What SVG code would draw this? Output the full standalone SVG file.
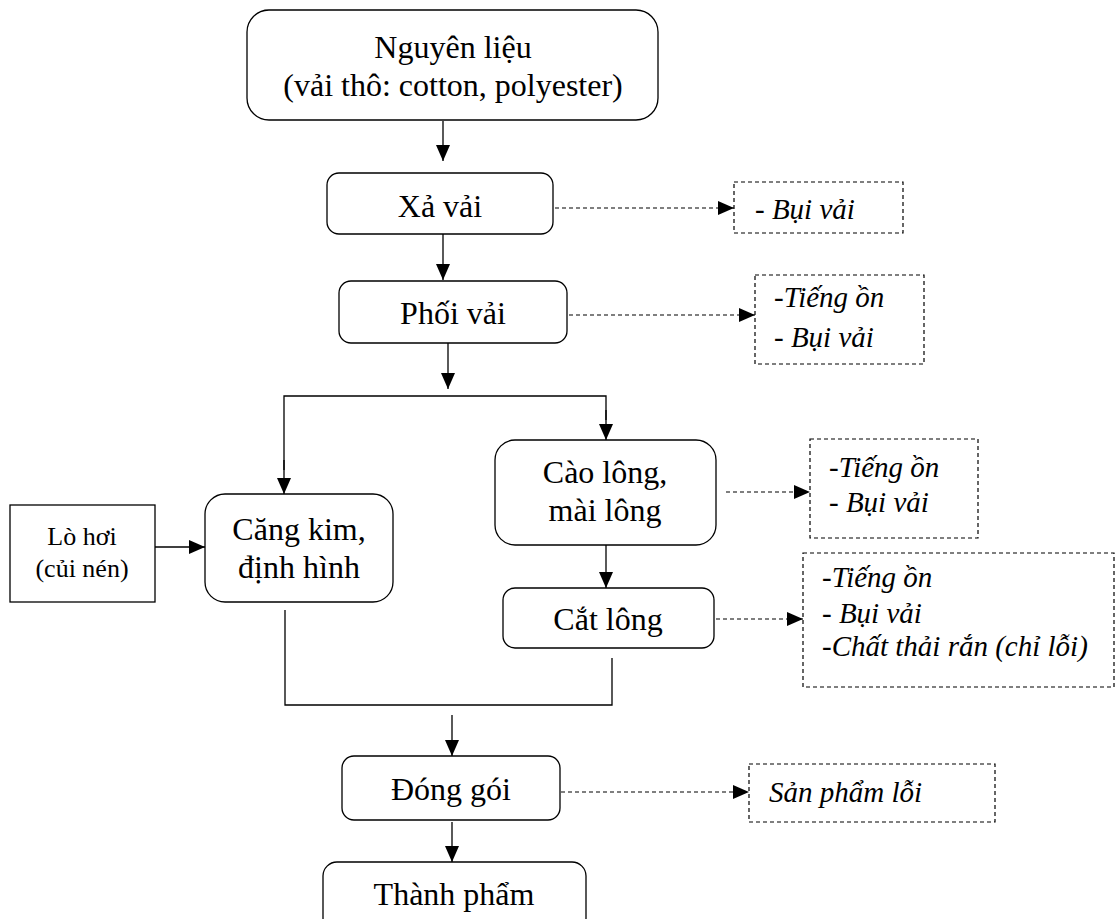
<svg xmlns="http://www.w3.org/2000/svg" width="1116" height="919" viewBox="0 0 1116 919">
<defs>
<marker id="ah" markerWidth="16" markerHeight="14" refX="16" refY="7" orient="auto" markerUnits="userSpaceOnUse" viewBox="0 0 16 14"><path d="M0,0 L16,7 L0,14 z" fill="#000"/></marker>
<style>
.box{fill:#fff;stroke:#000;stroke-width:1.3}
.dbox{fill:#fff;stroke:#000;stroke-width:1.2;stroke-dasharray:4,3}
.t{font-family:"Liberation Serif","Times New Roman",serif;font-size:32px;fill:#000;text-anchor:middle}
.ts{font-family:"Liberation Serif","Times New Roman",serif;font-size:26px;fill:#000;text-anchor:middle}
.ti{font-family:"Liberation Serif","Times New Roman",serif;font-size:29px;font-style:italic;fill:#000}
.ln{fill:none;stroke:#000;stroke-width:1.3}
.dl{fill:none;stroke:#000;stroke-width:1.2;stroke-dasharray:4,3}
</style>
</defs>
<g id="connectors">
<line class="ln" x1="443" y1="121" x2="443" y2="161" marker-end="url(#ah)"/>
<line class="dl" x1="555" y1="208" x2="734" y2="208" marker-end="url(#ah)"/>
<line class="ln" x1="443" y1="234" x2="443" y2="280" marker-end="url(#ah)"/>
<line class="dl" x1="569" y1="315" x2="755" y2="315" marker-end="url(#ah)"/>
<line class="ln" x1="448" y1="343" x2="448" y2="389" marker-end="url(#ah)"/>
<polyline class="ln" points="284,470 284,396 606,396 606,420"/>
<line class="ln" x1="284" y1="460" x2="284" y2="494" marker-end="url(#ah)"/>
<line class="ln" x1="606" y1="410" x2="606" y2="440" marker-end="url(#ah)"/>
<line class="ln" x1="155" y1="547" x2="205" y2="547" marker-end="url(#ah)"/>
<line class="dl" x1="726" y1="492" x2="810" y2="492" marker-end="url(#ah)"/>
<line class="ln" x1="606" y1="545" x2="606" y2="588" marker-end="url(#ah)"/>
<line class="dl" x1="716" y1="619" x2="803" y2="619" marker-end="url(#ah)"/>
<polyline class="ln" points="285,610 285,705 612,705 612,658"/>
<line class="ln" x1="452" y1="715" x2="452" y2="756" marker-end="url(#ah)"/>
<line class="dl" x1="561" y1="792" x2="749" y2="792" marker-end="url(#ah)"/>
<line class="ln" x1="452" y1="822" x2="452" y2="862" marker-end="url(#ah)"/>
</g>
<g id="n-nguyenlieu">
<rect class="box" x="247" y="10" width="411" height="110" rx="22"/>
<text class="t" x="453" y="58">Nguyên liệu</text>
<text class="t" x="453" y="96">(vải thô: cotton, polyester)</text>
</g>
<g id="n-xavai">
<rect class="box" x="327" y="173" width="226" height="61" rx="12"/>
<text class="t" x="440" y="217">Xả vải</text>
</g>
<g id="o-xavai">
<rect class="dbox" x="734" y="182" width="169" height="51"/>
<text class="ti" x="755" y="219">- Bụi vải</text>
</g>
<g id="n-phoivai">
<rect class="box" x="339" y="281" width="228" height="62" rx="12"/>
<text class="t" x="453" y="324">Phối vải</text>
</g>
<g id="o-phoivai">
<rect class="dbox" x="755" y="275" width="169" height="89"/>
<text class="ti" x="774" y="307">-Tiếng ồn</text>
<text class="ti" x="774" y="347">- Bụi vải</text>
</g>
<g id="n-longhoi">
<rect class="box" x="10" y="505" width="145" height="97"/>
<text class="ts" x="82" y="545">Lò hơi</text>
<text class="ts" x="82" y="577">(củi nén)</text>
</g>
<g id="n-cangkim">
<rect class="box" x="205" y="494" width="188" height="108" rx="20"/>
<text class="t" x="299" y="540">Căng kim,</text>
<text class="t" x="299" y="578">định hình</text>
</g>
<g id="n-caolong">
<rect class="box" x="495" y="440" width="221" height="105" rx="20"/>
<text class="t" x="605" y="483">Cào lông,</text>
<text class="t" x="605" y="521">mài lông</text>
</g>
<g id="o-caolong">
<rect class="dbox" x="810" y="439" width="168" height="99"/>
<text class="ti" x="829" y="477">-Tiếng ồn</text>
<text class="ti" x="829" y="512">- Bụi vải</text>
</g>
<g id="n-catlong">
<rect class="box" x="503" y="588" width="211" height="60" rx="12"/>
<text class="t" x="608" y="630">Cắt lông</text>
</g>
<g id="o-catlong">
<rect class="dbox" x="803" y="553" width="311" height="134"/>
<text class="ti" x="822" y="587">-Tiếng ồn</text>
<text class="ti" x="822" y="623">- Bụi vải</text>
<text class="ti" x="822" y="656">-Chất thải rắn (chỉ lỗi)</text>
</g>
<g id="n-donggoi">
<rect class="box" x="342" y="756" width="218" height="64" rx="12"/>
<text class="t" x="451" y="800">Đóng gói</text>
</g>
<g id="o-donggoi">
<rect class="dbox" x="749" y="764" width="246" height="58"/>
<text class="ti" x="769" y="802">Sản phẩm lỗi</text>
</g>
<g id="n-thanhpham">
<rect class="box" x="323" y="862" width="263" height="70" rx="14"/>
<text class="t" x="454" y="905">Thành phẩm</text>
</g>
</svg>
